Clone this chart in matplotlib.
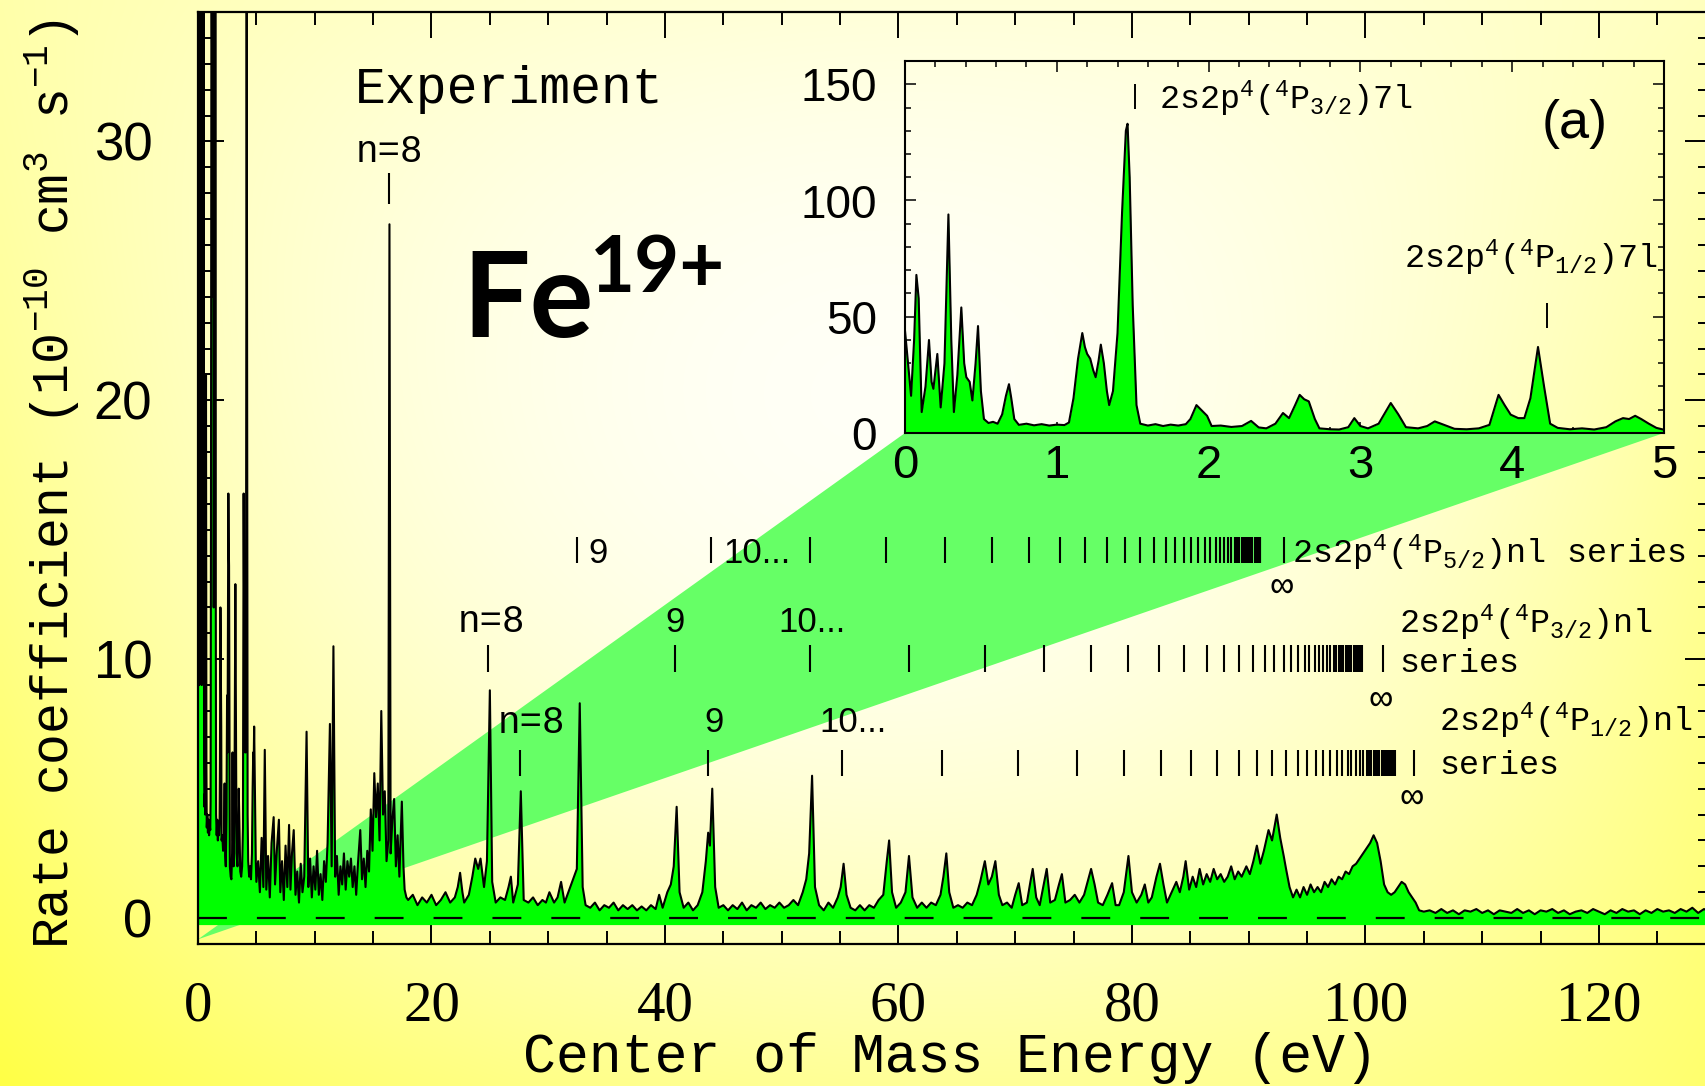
import numpy as np
import matplotlib
matplotlib.use("Agg")
import matplotlib.pyplot as plt
from matplotlib.patches import Polygon
from matplotlib.ticker import MultipleLocator

plt.rcParams['mathtext.fontset'] = 'custom'
plt.rcParams['mathtext.rm'] = 'Liberation Mono'
plt.rcParams['mathtext.it'] = 'Liberation Mono'
plt.rcParams['mathtext.bf'] = 'Liberation Mono:bold'
plt.rcParams['mathtext.default'] = 'rm'

# ---------------- data ----------------
# inset: 0-5 eV (also used for the lowest part of the main spectrum)
inset_energy = [0.00, 0.02, 0.04, 0.06, 0.075, 0.09, 0.11, 0.135, 0.158, 0.175, 0.187, 0.213, 0.235,
                0.26, 0.286, 0.305, 0.322, 0.345, 0.371, 0.39, 0.404, 0.426, 0.444, 0.465, 0.481, 0.50,
                0.52, 0.55, 0.58, 0.61, 0.64, 0.665, 0.685, 0.70, 0.72, 0.75, 0.80, 0.85, 0.90, 0.95,
                1.00, 1.05, 1.08, 1.11, 1.14, 1.168, 1.185, 1.20, 1.22, 1.24, 1.256, 1.275, 1.29, 1.31,
                1.33, 1.345, 1.37, 1.40, 1.43, 1.455, 1.466, 1.48, 1.50, 1.525, 1.55, 1.60, 1.65, 1.70,
                1.75, 1.80, 1.85, 1.88, 1.92, 1.95, 1.99, 2.02, 2.08, 2.15, 2.22, 2.28, 2.33, 2.38, 2.44,
                2.49, 2.53, 2.57, 2.60, 2.63, 2.66, 2.70, 2.73, 2.80, 2.86, 2.92, 2.96, 3.00, 3.05, 3.12,
                3.20, 3.25, 3.30, 3.38, 3.44, 3.49, 3.55, 3.62, 3.70, 3.78, 3.85, 3.91, 3.95, 3.99, 4.04,
                4.08, 4.12, 4.17, 4.21, 4.25, 4.30, 4.38, 4.46, 4.54, 4.62, 4.68, 4.73, 4.77, 4.81, 4.85,
                4.90, 4.95, 5.00]
inset_rate = [44, 30, 16, 40, 68, 58, 9, 20, 40, 22, 19, 34, 11,
              30, 94, 40, 9, 25, 54, 30, 24, 22, 14, 30, 46, 18,
              6, 4.3, 4.8, 4.0, 8, 16, 21, 15, 6, 3.5, 4.0, 3.3, 3.8, 3.2,
              3.6, 3.4, 4.5, 15, 32, 43, 37, 34, 32, 27, 24, 31, 38, 30,
              18, 12, 18, 43, 95, 130, 133, 110, 55, 12, 4, 3.2, 3.8, 3.0,
              3.6, 3.2, 3.8, 6, 12, 10, 7.4, 3, 3.2, 2.6, 3.0, 5.2, 2.4, 2.0, 4,
              8.6, 6.4, 12, 16.4, 14.5, 13.6, 6, 2, 1.6, 1.5, 2.5, 6.4, 3, 2, 4,
              12.9, 8, 2.5, 2.0, 3.0, 5.0, 3.5, 1.8, 1.6, 2.0, 3.5, 16.4, 12, 7.9, 6.4,
              6.4, 15, 37, 20, 4, 2.2, 1.6, 2.0, 1.5, 2.5, 5, 6.4, 6.0, 7.4, 6.0,
              4.0, 2.2, 1.4]

# main spectrum, 5 - 18 eV
energy_a = [5.15, 5.3, 5.45, 5.6, 5.72, 5.85, 6.0, 6.15, 6.3, 6.48, 6.6, 6.75, 6.93, 7.05, 7.2, 7.35,
            7.5, 7.65, 7.8, 7.92, 8.05, 8.2, 8.35, 8.5, 8.65, 8.8, 8.95, 9.1, 9.3, 9.45, 9.6, 9.75,
            9.9, 10.05, 10.2, 10.35, 10.5, 10.65, 10.8, 10.95, 11.1, 11.3, 11.45, 11.6, 11.75, 11.9,
            12.05, 12.2, 12.35, 12.5, 12.65, 12.8, 12.95, 13.1, 13.25, 13.4, 13.55, 13.7, 13.9, 14.05,
            14.2, 14.35, 14.5, 14.65, 14.8, 14.95, 15.1, 15.25, 15.4, 15.55, 15.7, 15.85, 16.0, 16.15,
            16.3, 16.4, 16.5, 16.65, 16.8, 16.95, 17.1, 17.25, 17.46, 17.6, 17.7, 17.85]
rate_a = [2.2, 1.0, 3.1, 1.2, 6.5, 1.1, 2.4, 0.8, 2.9, 3.9, 1.3, 2.6, 3.8, 1.0, 2.2, 0.7,
          2.8, 1.2, 3.6, 1.1, 2.5, 3.4, 0.9, 1.8, 0.6, 2.1, 1.0, 1.6, 7.2, 1.2, 2.3, 0.8,
          2.0, 1.1, 2.6, 0.9, 1.7, 0.7, 2.2, 1.4, 2.9, 7.5, 2.0, 10.5, 1.6, 2.4,
          0.9, 2.0, 1.3, 2.5, 1.1, 2.2, 1.6, 2.3, 1.2, 2.0, 0.9, 2.1, 3.4, 1.5,
          2.3, 1.2, 2.6, 1.8, 4.2, 2.6, 5.6, 3.9, 5.2, 3.0, 8.0, 4.0, 4.9, 2.2,
          3.0, 26.8, 2.5, 3.8, 4.6, 2.0, 3.2, 1.6, 4.5, 2.0, 1.1, 0.8]

# main spectrum, 18 - 45 eV
energy_b = [18.0, 18.4, 18.8, 19.2, 19.6, 20.0, 20.4, 20.8, 21.2, 21.6,
            22.0, 22.25, 22.45, 22.65, 22.8, 23.2, 23.5, 23.75, 24.0, 24.2,
            24.5, 24.75, 25.0, 25.2, 25.5, 25.9, 26.3, 26.6, 26.8, 27.0,
            27.4, 27.65, 27.9, 28.3, 28.7, 29.1, 29.5, 29.8, 30.1, 30.5,
            30.8, 31.1, 31.4, 31.8, 32.2, 32.45, 32.7, 32.95, 33.2, 33.6,
            34.0, 34.4, 34.8, 35.2, 35.6, 36.0, 36.4, 36.8, 37.2, 37.6,
            38.0, 38.4, 38.8, 39.2, 39.5, 39.8, 40.2, 40.5, 40.75, 41.0,
            41.25, 41.6, 42.0, 42.4, 42.8, 43.2, 43.5, 43.7, 43.85, 44.05,
            44.3, 44.6]
rate_b = [0.7, 0.9, 0.5, 0.8, 0.6, 0.9, 0.5, 0.7, 1.0, 0.6,
          0.8, 1.2, 1.75, 1.0, 0.6, 0.9, 1.6, 2.3, 1.9, 2.3,
          1.2, 2.2, 8.8, 1.4, 0.6, 0.8, 0.7, 1.2, 1.6, 0.6,
          1.3, 4.9, 0.7, 0.6, 0.8, 0.5, 0.7, 0.6, 1.0, 0.6,
          0.8, 1.4, 0.6, 1.1, 1.6, 1.9, 8.3, 1.2, 0.5, 0.4,
          0.6, 0.3, 0.5, 0.4, 0.6, 0.3, 0.5, 0.35, 0.5, 0.3,
          0.45, 0.3, 0.5, 0.35, 0.9, 0.4, 1.0, 1.3, 2.0, 4.3,
          1.0, 0.4, 0.6, 0.3, 0.5, 1.0, 2.2, 3.3, 2.8, 5.0,
          1.2, 0.4]

# main spectrum, 45 - 75 eV
energy_c = [45.0, 45.4, 45.8, 46.2, 46.6, 47.0, 47.4, 47.8, 48.2, 48.6,
            49.0, 49.4, 49.8, 50.2, 50.6, 51.0, 51.4, 51.8, 52.1, 52.35,
            52.6, 52.85, 53.2, 53.6, 54.0, 54.4, 54.8, 55.05, 55.3, 55.55,
            55.9, 56.3, 56.7, 57.1, 57.5, 57.9, 58.3, 58.7, 59.0, 59.2,
            59.45, 59.8, 60.2, 60.6, 60.9, 61.2, 61.6, 62.0, 62.4, 62.8,
            63.2, 63.6, 63.85, 64.1, 64.35, 64.7, 65.1, 65.5, 65.9, 66.3,
            66.7, 67.0, 67.4, 67.7, 68.0, 68.3, 68.6, 68.9, 69.3, 69.7,
            70.0, 70.3, 70.6, 71.0, 71.3, 71.5, 71.8, 72.1, 72.4, 72.7,
            73.0, 73.4, 73.75, 74.0, 74.3, 74.7]
rate_c = [0.5, 0.3, 0.5, 0.35, 0.6, 0.3, 0.5, 0.4, 0.6, 0.35,
          0.5, 0.4, 0.6, 0.4, 0.5, 0.7, 0.5, 1.0, 1.5, 2.5,
          5.5, 1.2, 0.5, 0.3, 0.6, 0.4, 0.8, 1.2, 2.1, 0.9,
          0.4, 0.3, 0.5, 0.3, 0.5, 0.4, 0.7, 0.9, 2.2, 3.0,
          1.0, 0.4, 0.6, 1.0, 2.4, 0.8, 0.4, 0.6, 0.4, 0.6,
          0.5, 0.9, 1.6, 2.5, 1.0, 0.4, 0.5, 0.4, 0.6, 0.5,
          0.9, 1.4, 2.2, 1.3, 1.6, 2.2, 0.9, 0.5, 0.6, 0.4,
          0.9, 1.35, 0.5, 0.6, 1.4, 1.9, 0.8, 0.5, 1.2, 1.9,
          0.6, 0.7, 1.3, 1.7, 0.6, 0.7]

# main spectrum, 75 - 105 eV
energy_d = [75.1, 75.5, 75.9, 76.2, 76.5, 76.8, 77.1, 77.5, 77.9, 78.3,
            78.6, 78.9, 79.3, 79.7, 80.0, 80.4, 80.8, 81.1, 81.4, 81.7,
            82.1, 82.4, 82.7, 83.0, 83.4, 83.8, 84.1, 84.4, 84.6, 84.9,
            85.2, 85.5, 85.8, 86.1, 86.4, 86.7, 87.0, 87.3, 87.6, 87.9,
            88.2, 88.5, 88.8, 89.1, 89.4, 89.8, 90.1, 90.4, 90.7, 91.0,
            91.3, 91.7, 92.0, 92.4, 92.7, 93.0, 93.2, 93.5, 93.8, 94.1,
            94.4, 94.7, 95.0, 95.3, 95.6, 95.9, 96.2, 96.5, 96.8, 97.1,
            97.4, 97.7, 98.0, 98.3, 98.6, 98.9, 99.2, 99.5, 99.8, 100.1,
            100.4, 100.7, 101.0, 101.3, 101.6, 101.9, 102.2, 102.5, 102.8, 103.1,
            103.4, 103.7, 104.0, 104.3, 104.6]
rate_d = [0.9, 0.6, 0.9, 1.4, 1.9, 1.3, 0.6, 0.5, 0.9, 1.35,
          0.5, 0.5, 1.0, 2.4, 1.0, 0.6, 0.9, 1.3, 0.6, 0.8,
          1.6, 2.1, 1.3, 0.6, 1.0, 1.4, 1.0, 1.6, 2.2, 1.1,
          1.6, 1.2, 1.9, 1.3, 1.7, 1.4, 1.9, 1.5, 1.7, 1.4,
          1.6, 2.0, 1.5, 1.8, 1.6, 2.0, 1.7, 2.2, 2.8, 2.1,
          2.6, 3.4, 3.0, 4.0, 3.1, 2.4, 1.9, 1.2, 0.8, 1.1,
          0.8, 1.2, 0.9, 1.3, 1.0, 1.2, 1.0, 1.4, 1.2, 1.5,
          1.3, 1.6, 1.5, 1.8, 1.7, 2.0, 2.1, 2.3, 2.5, 2.7,
          2.9, 3.2, 2.9, 2.2, 1.3, 1.0, 0.9, 1.0, 1.2, 1.4,
          1.3, 1.0, 0.8, 0.6, 0.3]

# main spectrum, 105 - 130 eV
energy_e = [105.0, 105.5, 106.0, 106.5, 107.0, 107.5, 108.0, 108.5, 109.0, 109.5,
            110.0, 110.5, 111.0, 111.5, 112.0, 112.5, 113.0, 113.5, 114.0, 114.5,
            115.0, 115.5, 116.0, 116.5, 117.0, 117.5, 118.0, 118.5, 119.0, 119.5,
            120.0, 120.5, 121.0, 121.5, 122.0, 122.5, 123.0, 123.5, 124.0, 124.5,
            125.0, 125.5, 126.0, 126.5, 127.0, 127.5, 128.0, 128.5, 129.0, 129.5, 130.0]
rate_e = [0.25, 0.3, 0.2, 0.35, 0.2, 0.3, 0.15, 0.3, 0.25, 0.35,
          0.2, 0.3, 0.15, 0.3, 0.25, 0.2, 0.35, 0.2, 0.3, 0.15,
          0.3, 0.25, 0.35, 0.2, 0.3, 0.15, 0.25, 0.3, 0.2, 0.35,
          0.25, 0.15, 0.3, 0.2, 0.35, 0.25, 0.3, 0.15, 0.3, 0.2,
          0.35, 0.25, 0.3, 0.2, 0.35, 0.25, 0.4, 0.2, 0.35, 0.25, 0.3]

# Rydberg series marker positions (eV)
p52_n8 = 16.4
p52_ticks = [32.5, 43.9, 52.4, 58.9, 64.0, 68.0, 71.2, 73.8, 76.0, 77.9, 79.4, 80.7, 81.9, 82.9,
             83.7, 84.5, 85.1, 85.7, 86.3, 86.7, 87.2, 87.5, 87.9, 88.2, 88.5, 88.8, 89.0, 89.2,
             89.4, 89.6, 89.8, 89.9, 90.1, 90.2, 90.3, 90.5, 90.6, 90.7, 90.8, 90.9, 91.0, 91.0]
p32_ticks = [24.8, 40.9, 52.4, 60.9, 67.4, 72.5, 76.5, 79.7, 82.3, 84.5, 86.4, 87.9, 89.2, 90.4,
             91.4, 92.2, 93.0, 93.6, 94.2, 94.8, 95.2, 95.7, 96.0, 96.4, 96.7, 97.0, 97.3, 97.5,
             97.7, 97.9, 98.1, 98.3, 98.4, 98.6, 98.7, 98.8, 99.0, 99.1, 99.2, 99.3, 99.4, 99.5,
             99.5, 99.6, 99.7]
p12_ticks = [27.6, 43.7, 55.2, 63.7, 70.2, 75.3, 79.3, 82.5, 85.1, 87.3, 89.2, 90.7, 92.0, 93.2,
             94.2, 95.0, 95.8, 96.4, 97.0, 97.6, 98.0, 98.5, 98.8, 99.2, 99.5, 99.8, 100.1, 100.3,
             100.5, 100.7, 100.9, 101.1, 101.2, 101.4, 101.5, 101.6, 101.8, 101.9, 102.0, 102.1,
             102.2, 102.3, 102.3, 102.4, 102.5]
series_limits = [93.0, 101.5, 104.2]   # P5/2, P3/2, P1/2 limits (infinity marks)
inset_marks = [1.515, 4.23]            # 2s2p4(4P3/2)7l and 2s2p4(4P1/2)7l

main_xticks = [0, 20, 40, 60, 80, 100, 120]
main_yticks = [0, 10, 20, 30]
inset_xticks = [0, 1, 2, 3, 4, 5]
inset_yticks = [0, 50, 100, 150]

# ---------------- figure ----------------
FW, FH = 1706, 1086
fig = plt.figure(figsize=(FW / 100, FH / 100), dpi=100)


def px_box(l, t, r, b):
    return [l / FW, 1 - b / FH, (r - l) / FW, (b - t) / FH]


# yellow radial-ish background
bg = fig.add_axes([0, 0, 1, 1], zorder=-10)
gx = np.linspace(0, 1, 341)
gy = np.linspace(0, 1, 217)


def lag(t):
    return np.stack([2 * (t - 0.5) * (t - 1), -4 * t * (t - 1), 2 * t * (t - 0.5)])


G = np.array([[170, 215, 190], [140, 242, 150], [70, 150, 110]], float)
Bc = lag(gy).T @ G @ lag(gx)
img = np.ones((len(gy), len(gx), 3))
img[..., 2] = np.clip(Bc, 0, 255) / 255.0
bg.imshow(img, extent=[0, 1, 0, 1], aspect='auto', origin='upper', interpolation='bilinear')
bg.set_axis_off()

GREEN = '#00ff00'
WEDGE = '#66ff66'
MONO = ['Liberation Mono', 'DejaVu Sans Mono']
SANS = ['Liberation Sans', 'DejaVu Sans']
SERIF = ['Liberation Serif', 'DejaVu Serif']

# main axes
ax = fig.add_axes(px_box(198, 12, 1711, 944))
ax.set_facecolor('none')
ax.set_xlim(0, 129.6)
ax.set_ylim(-1, 35)

# inset axes
axin = fig.add_axes(px_box(905, 61, 1664, 433))
axin.set_facecolor('none')
axin.set_xlim(0, 5)
axin.set_ylim(0, 160)

E = np.concatenate([inset_energy, energy_a, energy_b, energy_c, energy_d, energy_e])
R = np.concatenate([inset_rate, rate_a, rate_b, rate_c, rate_d, rate_e])

# wedge connecting the zero of the main plot to the inset
corners = ax.transData.inverted().transform(axin.transAxes.transform([(0, 0), (1, 0)]))
wedge = Polygon([(0, -0.82), tuple(corners[0]), tuple(corners[1])], closed=True,
                facecolor=WEDGE, edgecolor='none', zorder=1)
ax.add_patch(wedge)

ax.fill_between(E, R, -0.27, color=GREEN, lw=0, zorder=2)
ax.plot(E, R, color='black', lw=1.5, zorder=3)
ax.axhline(0, color='black', lw=1.6, ls=(0, (13, 13.5)), zorder=4)

# series marks
ax.vlines([p52_n8], 27.6, 28.8, color='black', lw=1.5, zorder=5)
ax.vlines(p52_ticks + [series_limits[0]], 13.72, 14.72, color='black', lw=1.5, zorder=5)
ax.vlines(p32_ticks + [series_limits[1]], 9.5, 10.55, color='black', lw=1.5, zorder=5)
ax.vlines(p12_ticks + [series_limits[2]], 5.5, 6.5, color='black', lw=1.5, zorder=5)

tkw = dict(color='black', zorder=6)
ax.text(13.45, 31.5, 'Experiment', family=MONO, fontsize=37, ha='left', va='baseline', **tkw)
ax.text(p52_n8, 29.2, 'n=8', family=MONO, fontsize=27, ha='center', va='baseline', **tkw)

ax.text(33.4, 13.72, '9', family=SANS, fontsize=25, ha='left', va='baseline', **tkw)
ax.text(45.0, 13.72, '10...', family=SANS, fontsize=25, ha='left', va='baseline', **tkw)
ax.text(93.75, 13.72, '2s2p$^4$($^4$P$_{5/2}$)nl series', family=MONO, fontsize=24,
        ha='left', va='baseline', **tkw)
ax.text(series_limits[0] - 0.2, 12.8, '∞', family=MONO, fontsize=27, ha='center', va='center', **tkw)

ax.text(25.1, 11.05, 'n=8', family=MONO, fontsize=27, ha='center', va='baseline', **tkw)
ax.text(40.9, 11.05, '9', family=SANS, fontsize=25, ha='center', va='baseline', **tkw)
ax.text(49.7, 11.05, '10...', family=SANS, fontsize=25, ha='left', va='baseline', **tkw)
ax.text(102.9, 11.0, '2s2p$^4$($^4$P$_{3/2}$)nl', family=MONO, fontsize=24,
        ha='left', va='baseline', **tkw)
ax.text(102.9, 9.5, 'series', family=MONO, fontsize=24, ha='left', va='baseline', **tkw)
ax.text(series_limits[1] - 0.2, 8.43, '∞', family=MONO, fontsize=27, ha='center', va='center', **tkw)

ax.text(28.6, 7.15, 'n=8', family=MONO, fontsize=27, ha='center', va='baseline', **tkw)
ax.text(44.2, 7.2, '9', family=SANS, fontsize=25, ha='center', va='baseline', **tkw)
ax.text(53.2, 7.2, '10...', family=SANS, fontsize=25, ha='left', va='baseline', **tkw)
ax.text(106.3, 7.2, '2s2p$^4$($^4$P$_{1/2}$)nl', family=MONO, fontsize=24,
        ha='left', va='baseline', **tkw)
ax.text(106.3, 5.55, 'series', family=MONO, fontsize=24, ha='left', va='baseline', **tkw)
ax.text(series_limits[2] - 0.2, 4.64, '∞', family=MONO, fontsize=27, ha='center', va='center', **tkw)

# main ticks
ax.set_xticks(main_xticks)
ax.set_xticklabels([str(v) for v in main_xticks], family=SERIF, fontsize=41)
ax.set_yticks(main_yticks)
ax.set_yticklabels([str(v) for v in main_yticks], family=SANS, fontsize=38)
ax.xaxis.set_minor_locator(MultipleLocator(5))
ax.yaxis.set_minor_locator(MultipleLocator(1))
ax.tick_params(which='both', direction='in', top=True, right=True, width=1.4, color='black')
ax.tick_params(which='major', length=19)
ax.tick_params(which='minor', length=9.5)
ax.tick_params(axis='x', which='major', pad=26)
ax.tick_params(axis='y', which='major', pad=33)
for s in ax.spines.values():
    s.set_linewidth(1.6)

# inset content
axin.fill_between(inset_energy, inset_rate, 0, color=GREEN, lw=0, zorder=2)
axin.plot(inset_energy, inset_rate, color='black', lw=1.5, zorder=3)
axin.vlines([inset_marks[0]], 139.3, 150, color='black', lw=1.4)
axin.vlines([inset_marks[1]], 45, 56, color='black', lw=1.4)
axin.text(1.673, 139.3, '2s2p$^4$($^4$P$_{3/2}$)7l', family=MONO, fontsize=24,
          ha='left', va='baseline', color='black')
axin.text(3.29, 71, '2s2p$^4$($^4$P$_{1/2}$)7l', family=MONO, fontsize=24,
          ha='left', va='baseline', color='black')
axin.text(4.41, 133, '(a)', family=SANS, fontsize=39, ha='center', va='center', color='black')

axin.set_xticks(inset_xticks)
axin.set_xticklabels([str(v) for v in inset_xticks], family=SANS, fontsize=34)
axin.set_yticks(inset_yticks)
axin.set_yticklabels([str(v) for v in inset_yticks], family=SANS, fontsize=33)
axin.xaxis.set_minor_locator(MultipleLocator(0.2))
axin.yaxis.set_minor_locator(MultipleLocator(10))
axin.tick_params(which='both', direction='in', top=True, right=True, width=1.1, color='black')
axin.tick_params(which='major', length=8)
axin.tick_params(which='minor', length=4.3)
axin.tick_params(axis='x', which='major', pad=8)
axin.tick_params(axis='y', which='major', pad=20)
for s in axin.spines.values():
    s.set_linewidth(1.5)

# big ion label
fig.text(462 / FW, 1 - 337 / FH, 'Fe', family=['Lato', 'DejaVu Sans'], fontweight='bold',
         fontsize=86, ha='left', va='baseline', color='black')
fig.text(590 / FW, 1 - 292 / FH, '19+', family=['Lato', 'DejaVu Sans'], fontweight='bold',
         fontsize=56, ha='left', va='baseline', color='black')

# axis labels
fig.text(950 / FW, (FH - 1072) / FH, 'Center of Mass Energy (eV)', family=MONO, fontsize=39.5,
         ha='center', va='baseline', color='black')
fig.text(52 / FW, 0.5548, 'Rate coefficient (10$^{-10}$ cm$^{3}$ s$^{-1}$)', family=MONO,
         fontsize=37, rotation=90, ha='center', va='center', color='black')

fig.savefig('out.png', dpi=100)
